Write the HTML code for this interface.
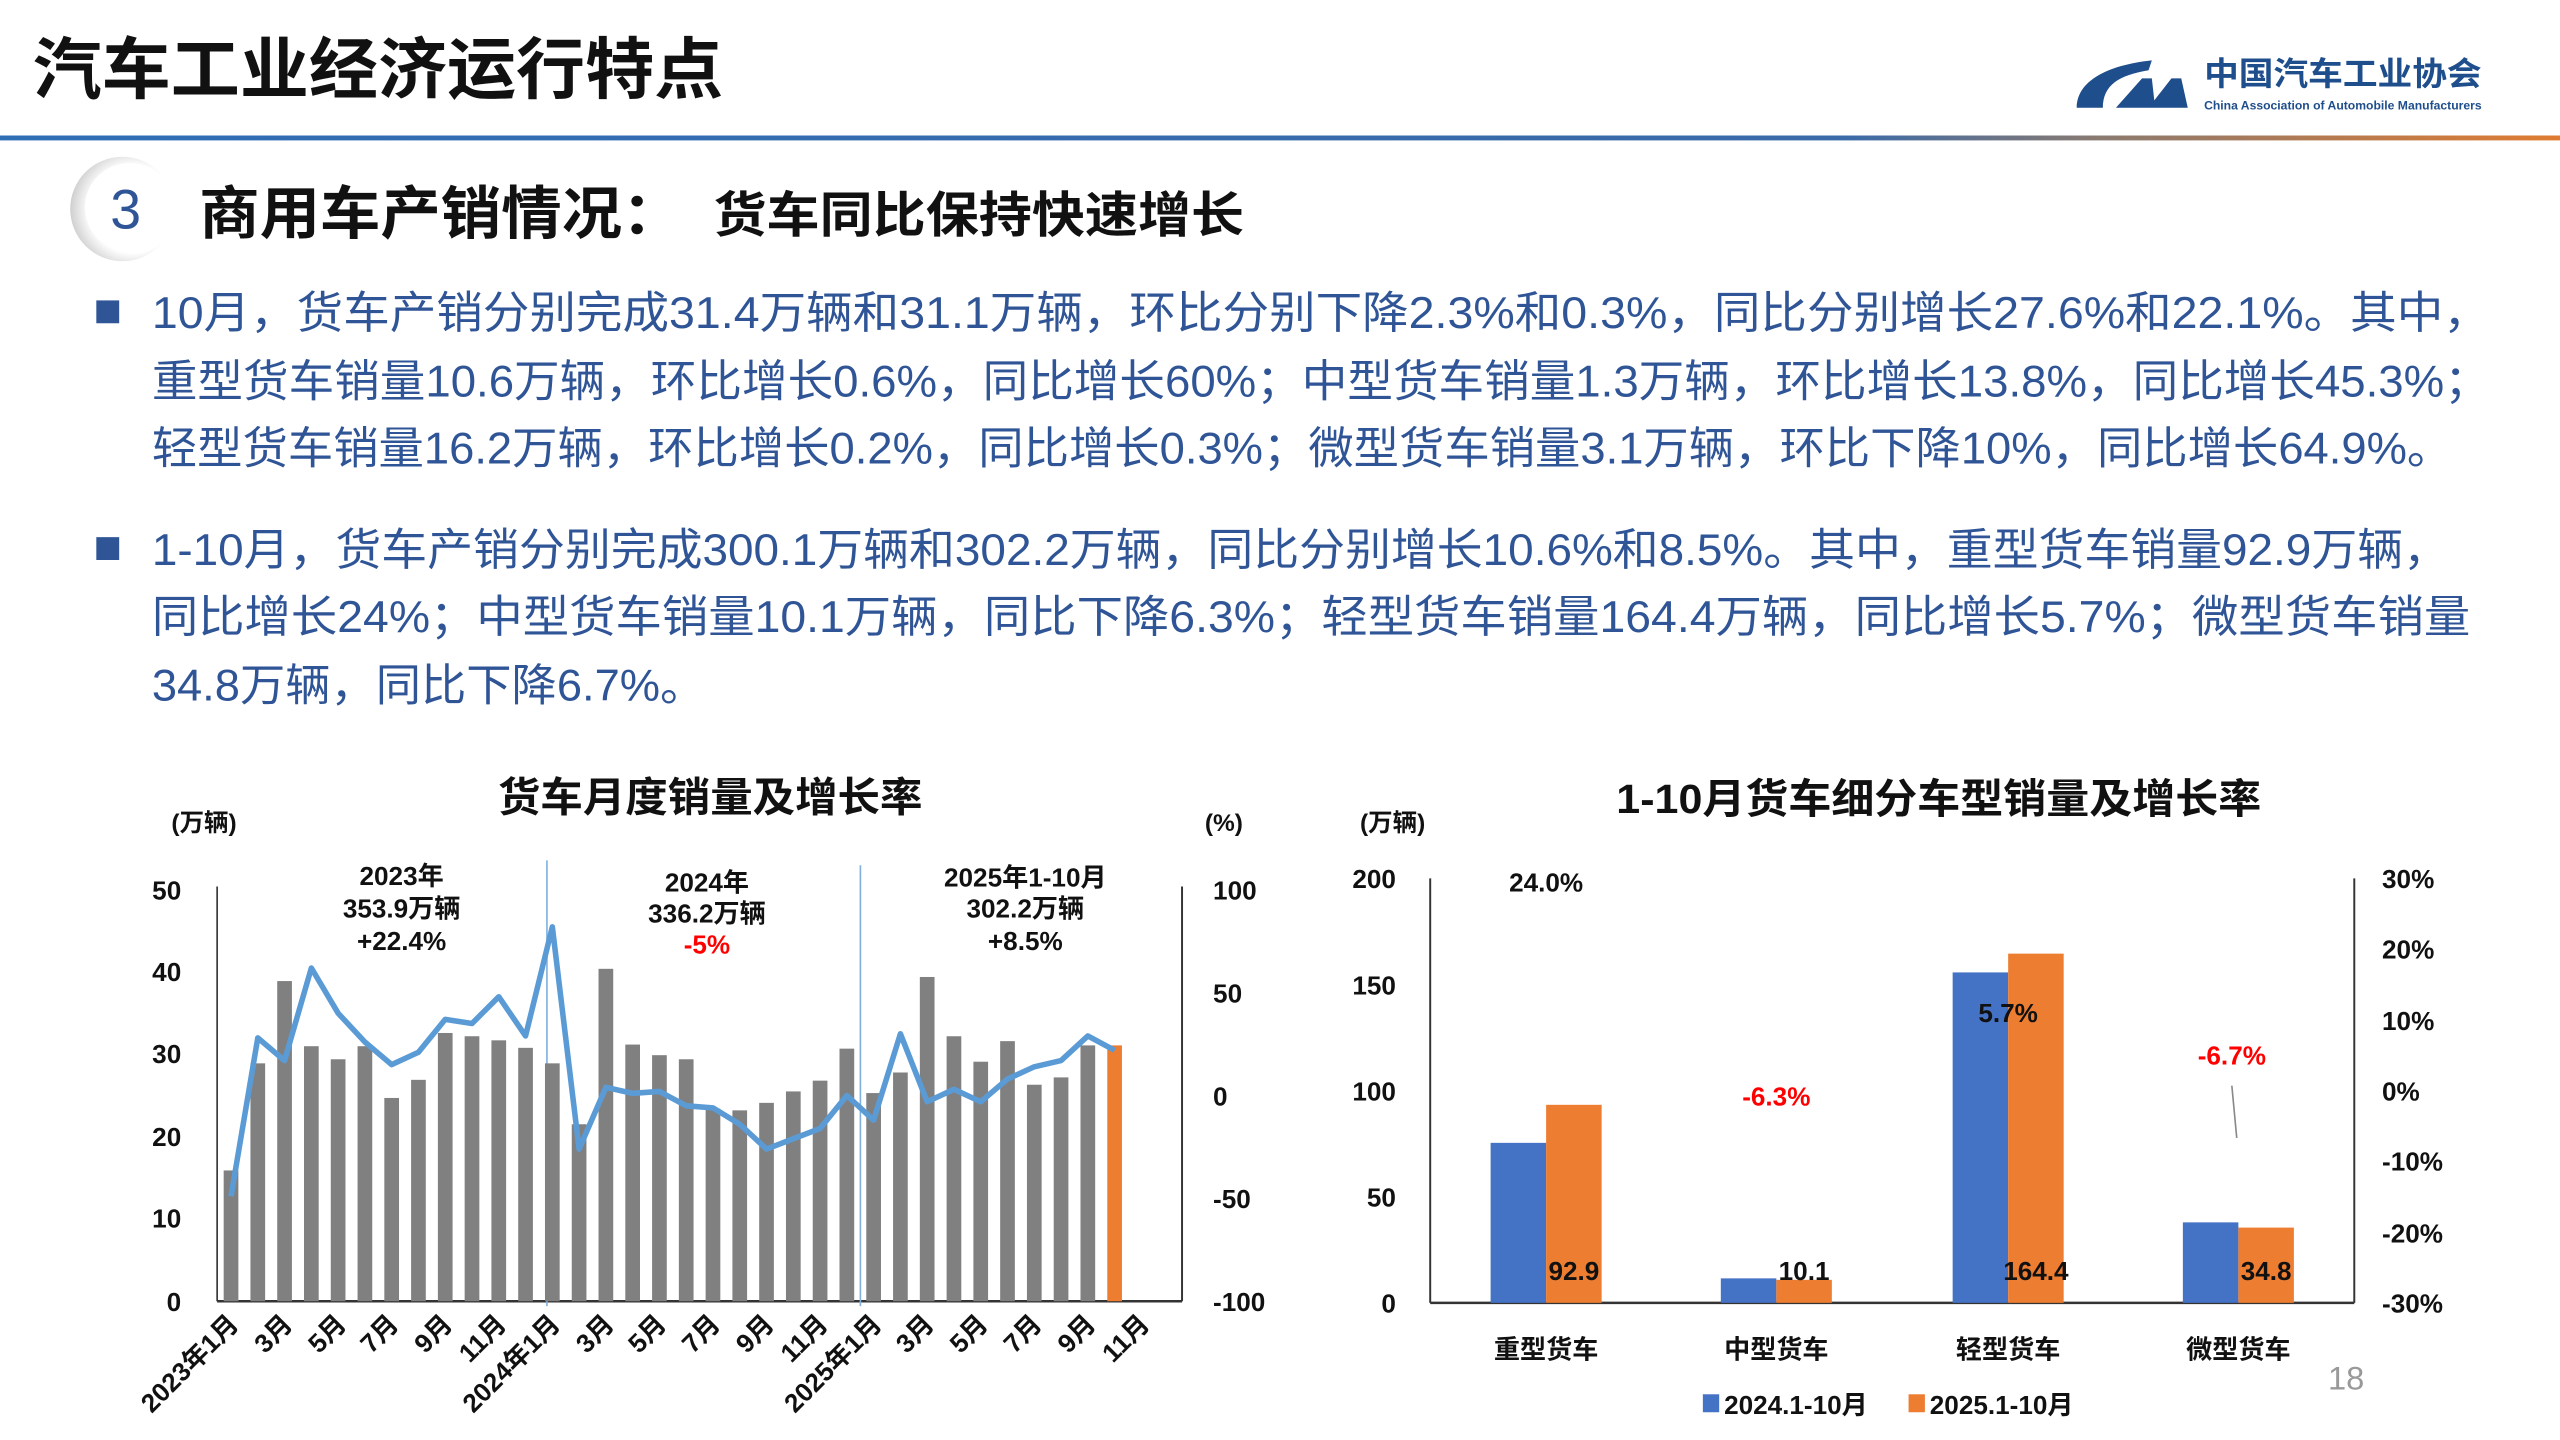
<!DOCTYPE html>
<html><head><meta charset="utf-8"><style>
html,body{margin:0;padding:0;background:#fff;}
svg{display:block;}
text{font-family:"Liberation Sans","Noto Sans CJK SC",sans-serif;}
</style></head><body>
<svg width="2560" height="1440" viewBox="0 0 1568 882" xmlns="http://www.w3.org/2000/svg">
<defs>
<linearGradient id="hl" x1="0" x2="1" y1="0" y2="0">
<stop offset="0" stop-color="#2f6db5"/><stop offset="0.72" stop-color="#3a6aa8"/><stop offset="0.82" stop-color="#8a7a70"/><stop offset="1" stop-color="#e07b30"/>
</linearGradient>
<radialGradient id="cg" cx="0.6" cy="0.5" r="0.6"><stop offset="0.7" stop-color="#ffffff"/><stop offset="1" stop-color="#cfcfcf"/></radialGradient>
</defs>
<rect width="1568" height="882" fill="#fff"/>
<!-- header -->
<text x="20" y="57" font-size="41" font-weight="bold" fill="#111" textLength="423" lengthAdjust="spacingAndGlyphs">汽车工业经济运行特点</text>
<rect x="0" y="83" width="1568" height="3" fill="url(#hl)"/>
<!-- logo -->
<path d="M1272 66 C1272 50 1290 40 1318 37 L1316 43 C1298 46 1288 52 1288 66 Z" fill="#1f4e8c"/>
<path d="M1296 66 L1312 48 L1318 48 L1320 66 Z M1316 66 L1330 48 L1336 48 L1340 66 Z" fill="#1f4e8c"/>
<text x="1350" y="52" font-size="20" font-weight="bold" fill="#1f4e8c" textLength="170" lengthAdjust="spacingAndGlyphs">中国汽车工业协会</text>
<text x="1350" y="67" font-size="7.5" font-weight="bold" fill="#1f4e8c" textLength="170" lengthAdjust="spacingAndGlyphs">China Association of Automobile Manufacturers</text>
<!-- section -->
<circle cx="75" cy="128" r="32" fill="url(#cg)"/>
<circle cx="79" cy="127" r="27" fill="#fff"/>
<text x="77" y="140" font-size="34" fill="#2f5597" text-anchor="middle">3</text>
<text x="122" y="143" font-size="35" font-weight="bold" fill="#111" textLength="296" lengthAdjust="spacingAndGlyphs">商用车产销情况：</text>
<text x="437" y="142" font-size="30" font-weight="bold" fill="#111" textLength="325" lengthAdjust="spacingAndGlyphs">货车同比保持快速增长</text>
<!-- bullets -->
<rect x="59" y="184" width="14" height="14" fill="#2f5597"/>
<rect x="59" y="329" width="14" height="14" fill="#2f5597"/>
<g font-size="27" fill="#2f5597">
<text x="93" y="201" textLength="1432" lengthAdjust="spacingAndGlyphs">10月，货车产销分别完成31.4万辆和31.1万辆，环比分别下降2.3%和0.3%，同比分别增长27.6%和22.1%。其中，</text>
<text x="93" y="243" textLength="1432" lengthAdjust="spacingAndGlyphs">重型货车销量10.6万辆，环比增长0.6%，同比增长60%；中型货车销量1.3万辆，环比增长13.8%，同比增长45.3%；</text>
<text x="93" y="284" textLength="1409" lengthAdjust="spacingAndGlyphs">轻型货车销量16.2万辆，环比增长0.2%，同比增长0.3%；微型货车销量3.1万辆，环比下降10%，同比增长64.9%。</text>
<text x="93" y="346" textLength="1407" lengthAdjust="spacingAndGlyphs">1-10月，货车产销分别完成300.1万辆和302.2万辆，同比分别增长10.6%和8.5%。其中，重型货车销量92.9万辆，</text>
<text x="93" y="387" textLength="1420" lengthAdjust="spacingAndGlyphs">同比增长24%；中型货车销量10.1万辆，同比下降6.3%；轻型货车销量164.4万辆，同比增长5.7%；微型货车销量</text>
<text x="93" y="429" textLength="339" lengthAdjust="spacingAndGlyphs">34.8万辆，同比下降6.7%。</text>
</g>

<!-- LEFT CHART -->
<text x="305" y="497" font-size="25" font-weight="bold" fill="#111" textLength="260" lengthAdjust="spacingAndGlyphs">货车月度销量及增长率</text>
<text x="105" y="509" font-size="15" font-weight="bold" fill="#111">(万辆)</text>
<text x="738" y="509" font-size="15" font-weight="bold" fill="#111">(%)</text>
<g font-size="16" font-weight="bold" fill="#111" text-anchor="end">
<text x="111" y="551">50</text><text x="111" y="601">40</text><text x="111" y="651">30</text><text x="111" y="702">20</text><text x="111" y="752">10</text><text x="111" y="803">0</text>
</g>
<g font-size="16" font-weight="bold" fill="#111">
<text x="743" y="551">100</text><text x="743" y="614">50</text><text x="743" y="677">0</text><text x="743" y="740">-50</text><text x="743" y="803">-100</text>
</g>
<line x1="133" y1="543" x2="133" y2="797" stroke="#333" stroke-width="1"/>
<line x1="724" y1="543" x2="724" y2="797" stroke="#333" stroke-width="1.2"/>
<line x1="133" y1="797" x2="724" y2="797" stroke="#333" stroke-width="1.5"/>
<line x1="335" y1="527" x2="335" y2="800" stroke="#7fb0e0" stroke-width="1"/>
<line x1="527" y1="530" x2="527" y2="800" stroke="#7fb0e0" stroke-width="1"/>
<g fill="#808080">
<rect x="137" y="716.9" width="9" height="80.1"/>
<rect x="153.4" y="651.3" width="9" height="145.7"/>
<rect x="169.8" y="600.9" width="9" height="196.1"/>
<rect x="186.2" y="640.8" width="9" height="156.2"/>
<rect x="202.6" y="648.8" width="9" height="148.2"/>
<rect x="219" y="640.8" width="9" height="156.2"/>
<rect x="235.4" y="672.5" width="9" height="124.5"/>
<rect x="251.8" y="661.4" width="9" height="135.6"/>
<rect x="268.2" y="632.7" width="9" height="164.3"/>
<rect x="284.6" y="634.7" width="9" height="162.3"/>
<rect x="301" y="637.2" width="9" height="159.8"/>
<rect x="317.4" y="641.8" width="9" height="155.2"/>
<rect x="333.8" y="651.3" width="9" height="145.7"/>
<rect x="350.2" y="688.6" width="9" height="108.4"/>
<rect x="366.6" y="593.4" width="9" height="203.6"/>
<rect x="383" y="639.8" width="9" height="157.2"/>
<rect x="399.4" y="646.3" width="9" height="150.7"/>
<rect x="415.8" y="648.8" width="9" height="148.2"/>
<rect x="432.2" y="679.1" width="9" height="117.9"/>
<rect x="448.6" y="680.1" width="9" height="116.9"/>
<rect x="465" y="675.5" width="9" height="121.5"/>
<rect x="481.4" y="668.5" width="9" height="128.5"/>
<rect x="497.8" y="661.9" width="9" height="135.1"/>
<rect x="514.2" y="642.3" width="9" height="154.7"/>
<rect x="530.6" y="669.5" width="9" height="127.5"/>
<rect x="547" y="656.9" width="9" height="140.1"/>
<rect x="563.4" y="598.4" width="9" height="198.6"/>
<rect x="579.8" y="634.7" width="9" height="162.3"/>
<rect x="596.2" y="650.3" width="9" height="146.7"/>
<rect x="612.6" y="637.7" width="9" height="159.3"/>
<rect x="629" y="664.4" width="9" height="132.6"/>
<rect x="645.4" y="659.9" width="9" height="137.1"/>
<rect x="661.8" y="640.3" width="9" height="156.7"/>
</g>
<rect x="678.2" y="640.3" width="9" height="156.7" fill="#ed7d31"/>
<polyline fill="none" stroke="#5b9bd5" stroke-width="3.4" stroke-linejoin="round" points="141.5,732.7 157.9,635.7 174.3,649.6 190.7,592.9 207.1,620.6 223.5,638.2 239.9,652.1 256.3,644.5 272.7,624.4 289.1,626.9 305.5,610.5 321.9,634.5 338.3,567.7 354.7,703.8 371.1,666 387.5,669.7 403.9,668.5 420.3,677.3 436.7,678.6 453.1,688.6 469.5,703.8 485.9,697.5 502.3,691.2 518.7,671 535.1,686.1 551.5,633.2 567.9,674.8 584.3,667.2 600.7,674.8 617.1,660.9 633.5,653.4 649.9,649.6 666.3,634.5 682.7,643.3"/>
<g font-size="16" font-weight="bold" fill="#111" text-anchor="middle">
<text x="246" y="542">2023年</text><text x="246" y="562">353.9万辆</text><text x="246" y="582">+22.4%</text>
<text x="433" y="546">2024年</text><text x="433" y="565">336.2万辆</text><text x="433" y="584" fill="#ff0000">-5%</text>
<text x="628" y="543">2025年1-10月</text><text x="628" y="562">302.2万辆</text><text x="628" y="582">+8.5%</text>
</g>
<g font-size="16" font-weight="bold" fill="#111" text-anchor="end">
<text transform="translate(147,812) rotate(-45)">2023年1月</text>
<text transform="translate(180,812) rotate(-45)">3月</text>
<text transform="translate(213,812) rotate(-45)">5月</text>
<text transform="translate(245,812) rotate(-45)">7月</text>
<text transform="translate(278,812) rotate(-45)">9月</text>
<text transform="translate(311,812) rotate(-45)">11月</text>
<text transform="translate(344,812) rotate(-45)">2024年1月</text>
<text transform="translate(377,812) rotate(-45)">3月</text>
<text transform="translate(409,812) rotate(-45)">5月</text>
<text transform="translate(442,812) rotate(-45)">7月</text>
<text transform="translate(475,812) rotate(-45)">9月</text>
<text transform="translate(508,812) rotate(-45)">11月</text>
<text transform="translate(541,812) rotate(-45)">2025年1月</text>
<text transform="translate(573,812) rotate(-45)">3月</text>
<text transform="translate(606,812) rotate(-45)">5月</text>
<text transform="translate(639,812) rotate(-45)">7月</text>
<text transform="translate(672,812) rotate(-45)">9月</text>
<text transform="translate(705,812) rotate(-45)">11月</text>
</g>

<!-- RIGHT CHART -->
<text x="990" y="498" font-size="25" font-weight="bold" fill="#111" textLength="395" lengthAdjust="spacingAndGlyphs">1-10月货车细分车型销量及增长率</text>
<text x="833" y="509" font-size="15" font-weight="bold" fill="#111">(万辆)</text>
<g font-size="16" font-weight="bold" fill="#111" text-anchor="end">
<text x="855" y="544">200</text><text x="855" y="609">150</text><text x="855" y="674">100</text><text x="855" y="739">50</text><text x="855" y="804">0</text>
</g>
<g font-size="16" font-weight="bold" fill="#111">
<text x="1459" y="544">30%</text><text x="1459" y="587">20%</text><text x="1459" y="631">10%</text><text x="1459" y="674">0%</text><text x="1459" y="717">-10%</text><text x="1459" y="761">-20%</text><text x="1459" y="804">-30%</text>
</g>
<line x1="876" y1="538" x2="876" y2="798" stroke="#333" stroke-width="1.2"/>
<line x1="1442" y1="538" x2="1442" y2="798" stroke="#333" stroke-width="1.2"/>
<line x1="876" y1="798" x2="1442" y2="798" stroke="#333" stroke-width="1.5"/>
<g fill="#4472c4">
<rect x="913" y="700" width="34" height="98"/>
<rect x="1054" y="783" width="34" height="15"/>
<rect x="1196" y="595.6" width="34" height="202.4"/>
<rect x="1337" y="748.7" width="34" height="49.3"/>
</g>
<g fill="#ed7d31">
<rect x="947" y="676.7" width="34" height="121.3"/>
<rect x="1088" y="783.9" width="34" height="14.1"/>
<rect x="1230" y="584.1" width="34" height="213.9"/>
<rect x="1371" y="751.9" width="34" height="46.1"/>
</g>
<g font-size="16" font-weight="bold" fill="#111" text-anchor="middle">
<text x="964" y="784">92.9</text><text x="1105" y="784">10.1</text><text x="1247" y="784">164.4</text><text x="1388" y="784">34.8</text>
<text x="947" y="546">24.0%</text><text x="1230" y="626">5.7%</text>
<text x="1088" y="677" fill="#ff0000">-6.3%</text><text x="1367" y="652" fill="#ff0000">-6.7%</text>
</g>
<line x1="1367" y1="665" x2="1370" y2="697" stroke="#888" stroke-width="1"/>
<g font-size="16" font-weight="bold" fill="#111" text-anchor="middle">
<text x="947" y="832">重型货车</text><text x="1088" y="832">中型货车</text><text x="1230" y="832">轻型货车</text><text x="1371" y="832">微型货车</text>
</g>
<rect x="1043" y="854" width="10" height="11" fill="#4472c4"/>
<text x="1056" y="866" font-size="16" font-weight="bold" fill="#111">2024.1-10月</text>
<rect x="1169" y="854" width="10" height="11" fill="#ed7d31"/>
<text x="1182" y="866" font-size="16" font-weight="bold" fill="#111">2025.1-10月</text>
<text x="1437" y="851" font-size="20" fill="#999" text-anchor="middle">18</text>
</svg>
</body></html>
